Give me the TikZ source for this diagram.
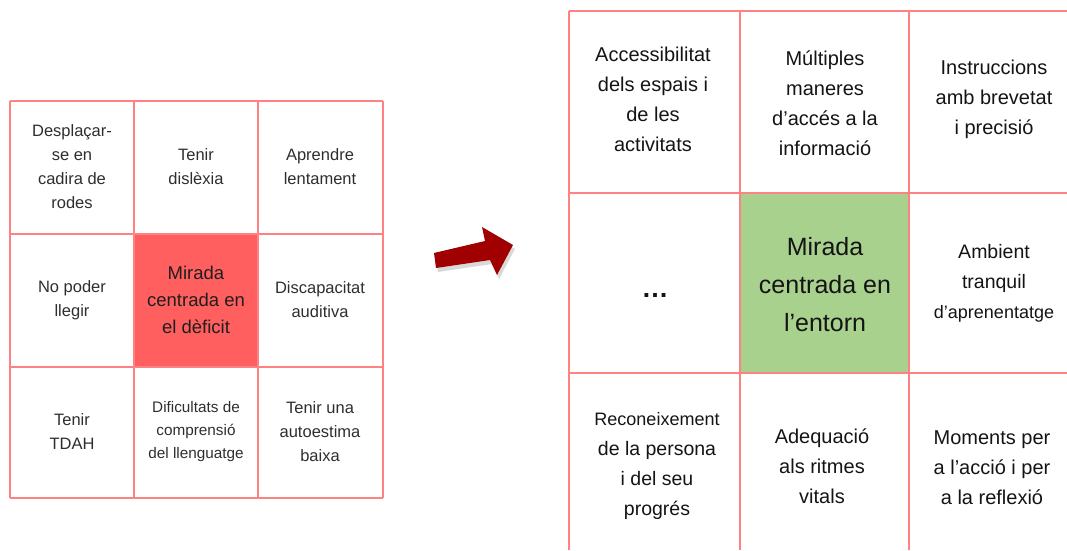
\documentclass[tikz,border=0pt]{standalone}
\usepackage{fontspec}
\setmainfont{Liberation Sans}
\definecolor{deficit}{RGB}{255,95,95}
\definecolor{entorn}{RGB}{169,209,142}
\definecolor{arrowred}{RGB}{160,0,0}
\definecolor{gridred}{RGB}{255,130,130}
\begin{document}
\begin{tikzpicture}[x=1pt,y=-1pt,
  gridline/.style={draw=gridred, line width=1.3pt},
  lcell/.style={align=center, text=black!82, font=\fontsize{16.5}{24}\selectfont},
  rcell/.style={align=center, text=black!92, font=\fontsize{20}{30}\selectfont}]
\useasboundingbox (0,0) rectangle (1067,550);
% ---------- left grid ----------
\fill[deficit] (134,234) rectangle (258,367);
\foreach \x in {10,134,258,383} \draw[gridline] (\x,101) -- (\x,498);
\foreach \y in {101,234,367,498} \draw[gridline] (10,\y) -- (383,\y);
\node[lcell] (l11) at (72,167) {Desplaçar-\\se en\\cadira de\\rodes};
\node[lcell] (l12) at (196,167) {Tenir\\dislèxia};
\node[lcell] (l13) at (320,167) {Aprendre\\lentament};
\node[lcell] (l21) at (72,300) {No poder\\llegir};
\node[lcell, text=black!88, font=\fontsize{18.5}{27}\selectfont] (l22) at (196,300) {Mirada\\centrada en\\el dèficit};
\node[lcell] (l23) at (320,300) {Discapacitat\\auditiva};
\node[lcell] (l31) at (72,432) {Tenir\\TDAH};
\node[lcell, font=\fontsize{15.3}{23}\selectfont] (l32) at (196,432) {Dificultats de\\comprensió\\del llenguatge};
\node[lcell] (l33) at (320,432) {Tenir una\\autoestima\\baixa};
% ---------- arrow ----------
\fill[black!15] (436,257) -- (487,245) -- (484,231) -- (515,249) -- (499,279) -- (492,264) -- (438,272) -- cycle;
\fill[arrowred] (434,253) -- (485,241) -- (482,227) -- (513,245) -- (497,275) -- (490,260) -- (436,268) -- cycle;
% ---------- right grid ----------
\fill[entorn] (740,193) rectangle (909,373);
\foreach \x in {569,740,909} \draw[gridline] (\x,11) -- (\x,550);
\foreach \y in {11,193,373} \draw[gridline] (569,\y) -- (1067,\y);
\node[rcell] (r11) at (653,99) {Accessibilitat\\dels espais i\\de les\\activitats};
\node[rcell] (r12) at (825,103) {Múltiples\\maneres\\d’accés a la\\informació};
\node[rcell] (r13) at (994,99) {Instruccions\\amb brevetat\\i precisió};
\node[rcell, font=\bfseries\fontsize{27}{30}\selectfont] (r21) at (655,295) {…};
\node[rcell, font=\fontsize{25}{38}\selectfont] (r22) at (825,285) {Mirada\\centrada en\\l’entorn};
\node[rcell, font=\fontsize{19.5}{30}\selectfont] (r23) at (994,283) {Ambient\\tranquil\\{\fontsize{18}{30}\selectfont d’aprenentatge}};
\node[rcell, font=\fontsize{19.5}{30}\selectfont] (r31) at (657,466) {{\fontsize{18}{30}\selectfont Reconeixement}\\de la persona\\i del seu\\progrés};
\node[rcell] (r32) at (822,466) {Adequació\\als ritmes\\vitals};
\node[rcell] (r33) at (992,468) {Moments per\\a l’acció i per\\a la reflexió};
\end{tikzpicture}
\end{document}
